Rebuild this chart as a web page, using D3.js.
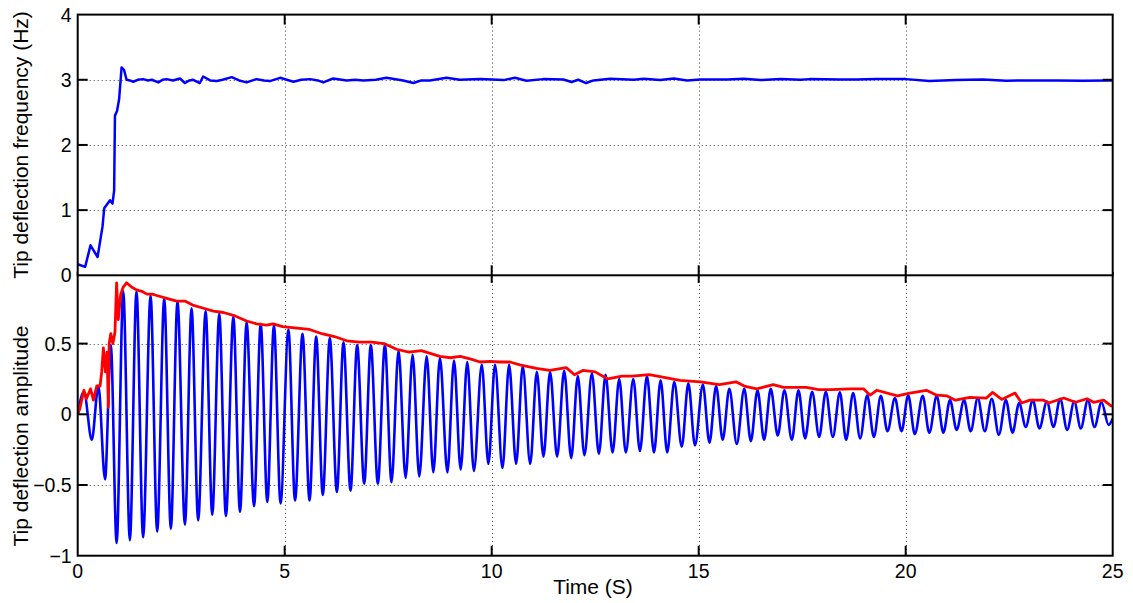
<!DOCTYPE html>
<html>
<head>
<meta charset="utf-8">
<script src="https://cdn.jsdelivr.net/npm/d3@7"></script>
<style>
  html, body { margin: 0; padding: 0; background: #fff; }
  svg { display: block; font-family: "Liberation Sans", Arial, sans-serif; }
</style>
</head>
<body>
<svg id="chart" width="1133" height="603"></svg>
<script>
// Top panel: tip deflection frequency (Hz) vs time (s)
const freqT = [0, 0.18, 0.31, 0.48, 0.6, 0.64, 0.78, 0.84, 0.88, 0.9, 0.95, 1.0, 1.06, 1.12, 1.18, 1.26, 1.34, 1.45, 1.58, 1.7, 1.79, 1.95, 2.05, 2.15, 2.3, 2.47, 2.59, 2.7, 2.79, 2.95, 3.03, 3.2, 3.36, 3.5, 3.72, 3.9, 4.08, 4.32, 4.5, 4.64, 4.89, 5.05, 5.21, 5.4, 5.61, 5.8, 5.93, 6.17, 6.5, 6.7, 6.9, 7.2, 7.46, 7.86, 8.11, 8.3, 8.51, 8.91, 9.23, 9.72, 10.29, 10.56, 10.84, 11.24, 11.73, 11.93, 12.09, 12.28, 12.46, 12.86, 13.43, 13.67, 14.07, 14.4, 14.72, 15.04, 15.69, 16.09, 16.49, 16.98, 17.46, 17.68, 18.4, 18.8, 19.29, 20.01, 20.57, 21.22, 21.86, 22.43, 22.99, 23.63, 24.27, 24.92, 25];
const freqHz = [0.17, 0.13, 0.46, 0.28, 0.75, 1.03, 1.15, 1.1, 1.3, 2.45, 2.52, 2.7, 3.19, 3.15, 3.0, 2.99, 2.97, 3.0, 3.01, 2.99, 3.0, 2.96, 3.0, 3.01, 2.99, 3.02, 2.95, 2.99, 3.0, 2.95, 3.05, 2.99, 2.98, 3.0, 3.04, 2.99, 2.96, 3.01, 2.99, 2.98, 3.03, 3.0, 2.97, 3.0, 3.01, 2.99, 2.96, 3.02, 2.99, 3.0, 2.99, 3.0, 3.03, 2.99, 2.95, 2.99, 2.99, 3.03, 3.0, 3.01, 2.995, 3.03, 2.985, 3.01, 3.005, 2.965, 3.0, 2.95, 2.99, 3.015, 3.0, 3.015, 2.995, 3.02, 2.99, 3.005, 3.005, 3.015, 2.995, 3.01, 3.0, 3.01, 3.005, 3.005, 3.01, 3.01, 2.98, 2.995, 3.005, 2.985, 2.99, 2.99, 2.985, 2.99, 2.99];

// Bottom panel: tip deflection, successive peaks and troughs (blue)
const defT = [0, 0.15, 0.34, 0.5, 0.66, 0.8, 0.94, 1.1, 1.26, 1.42, 1.58, 1.76, 1.92, 2.09, 2.25, 2.41, 2.59, 2.75, 2.91, 3.09, 3.25, 3.42, 3.58, 3.76, 3.92, 4.08, 4.26, 4.42, 4.58, 4.74, 4.9, 5.09, 5.25, 5.43, 5.6, 5.76, 5.92, 6.09, 6.26, 6.42, 6.59, 6.75, 6.92, 7.08, 7.25, 7.42, 7.58, 7.75, 7.92, 8.09, 8.25, 8.43, 8.59, 8.75, 8.93, 9.09, 9.25, 9.41, 9.57, 9.76, 9.92, 10.08, 10.26, 10.42, 10.59, 10.75, 10.93, 11.09, 11.25, 11.41, 11.58, 11.75, 11.92, 12.08, 12.24, 12.42, 12.59, 12.75, 12.92, 13.08, 13.24, 13.42, 13.58, 13.75, 13.92, 14.08, 14.24, 14.41, 14.59, 14.75, 14.91, 15.1, 15.26, 15.42, 15.58, 15.74, 15.92, 16.1, 16.26, 16.42, 16.58, 16.74, 16.91, 17.07, 17.25, 17.41, 17.57, 17.74, 17.91, 18.07, 18.24, 18.41, 18.56, 18.73, 18.9, 19.07, 19.23, 19.4, 19.56, 19.74, 19.9, 20.06, 20.22, 20.41, 20.57, 20.75, 20.91, 21.07, 21.23, 21.41, 21.57, 21.74, 21.91, 22.08, 22.25, 22.42, 22.58, 22.74, 22.9, 23.07, 23.23, 23.41, 23.57, 23.73, 23.9, 24.07, 24.23, 24.4, 24.56, 24.73, 24.9, 25];
const defAmp = [0, 0.16, -0.18, 0.2, -0.46, 0.49, -0.91, 0.87, -0.89, 0.87, -0.87, 0.84, -0.83, 0.82, -0.81, 0.8, -0.78, 0.75, -0.75, 0.73, -0.71, 0.71, -0.72, 0.69, -0.69, 0.65, -0.65, 0.64, -0.62, 0.63, -0.63, 0.6, -0.61, 0.57, -0.61, 0.55, -0.57, 0.54, -0.55, 0.51, -0.54, 0.49, -0.49, 0.49, -0.49, 0.49, -0.48, 0.45, -0.45, 0.42, -0.44, 0.41, -0.41, 0.4, -0.41, 0.38, -0.39, 0.37, -0.4, 0.35, -0.35, 0.35, -0.38, 0.35, -0.35, 0.34, -0.35, 0.3, -0.3, 0.3, -0.3, 0.31, -0.31, 0.27, -0.29, 0.29, -0.28, 0.28, -0.27, 0.25, -0.27, 0.25, -0.26, 0.27, -0.27, 0.24, -0.27, 0.23, -0.23, 0.22, -0.22, 0.21, -0.2, 0.2, -0.18, 0.18, -0.21, 0.18, -0.19, 0.17, -0.18, 0.18, -0.15, 0.17, -0.18, 0.17, -0.17, 0.16, -0.16, 0.16, -0.16, 0.155, -0.18, 0.15, -0.17, 0.135, -0.16, 0.13, -0.12, 0.115, -0.12, 0.135, -0.14, 0.13, -0.13, 0.13, -0.13, 0.1, -0.11, 0.1, -0.12, 0.115, -0.12, 0.11, -0.145, 0.1, -0.13, 0.08, -0.09, 0.1, -0.1, 0.09, -0.09, 0.11, -0.11, 0.09, -0.1, 0.1, -0.09, 0.085, -0.075, -0.03];

// Bottom panel: envelope (red)
const envT = [0, 0.05, 0.15, 0.21, 0.31, 0.38, 0.46, 0.54, 0.58, 0.62, 0.67, 0.71, 0.74, 0.76, 0.8, 0.85, 0.9, 0.94, 0.98, 1.04, 1.1, 1.18, 1.3, 1.42, 1.55, 1.67, 1.8, 1.91, 2.15, 2.39, 2.6, 2.8, 3.04, 3.28, 3.52, 3.76, 4.08, 4.32, 4.56, 4.72, 4.95, 5.3, 5.6, 5.9, 6.2, 6.5, 6.8, 7.1, 7.4, 7.7, 8.0, 8.3, 8.75, 9.0, 9.24, 9.5, 9.72, 9.96, 10.2, 10.44, 10.68, 11.08, 11.4, 11.8, 12.0, 12.2, 12.5, 12.8, 13.15, 13.4, 13.8, 14.1, 14.55, 15.04, 15.5, 15.9, 16.1, 16.4, 16.8, 17.05, 17.6, 17.9, 18.2, 18.66, 18.98, 19.14, 19.3, 19.8, 20.1, 20.5, 20.75, 21.0, 21.2, 21.55, 21.95, 22.1, 22.32, 22.64, 22.8, 23.0, 23.33, 23.45, 23.82, 24.1, 24.38, 24.54, 24.78, 24.96, 25];
const envAmp = [0, 0.04, 0.17, 0.11, 0.18, 0.1, 0.2, 0.2, 0.3, 0.47, 0.3, 0.44, 0.05, 0.5, 0.57, 0.5, 0.58, 0.93, 0.67, 0.85, 0.9, 0.93, 0.9, 0.88, 0.87, 0.85, 0.85, 0.84, 0.82, 0.8, 0.8, 0.77, 0.75, 0.73, 0.72, 0.7, 0.66, 0.64, 0.63, 0.64, 0.62, 0.61, 0.6, 0.57, 0.55, 0.52, 0.51, 0.51, 0.5, 0.46, 0.44, 0.45, 0.41, 0.4, 0.41, 0.39, 0.37, 0.375, 0.37, 0.37, 0.35, 0.325, 0.31, 0.33, 0.28, 0.31, 0.3, 0.25, 0.27, 0.27, 0.28, 0.265, 0.24, 0.23, 0.21, 0.23, 0.2, 0.18, 0.21, 0.19, 0.19, 0.175, 0.175, 0.18, 0.18, 0.135, 0.17, 0.13, 0.15, 0.17, 0.135, 0.13, 0.1, 0.12, 0.115, 0.155, 0.105, 0.15, 0.08, 0.1, 0.1, 0.08, 0.115, 0.085, 0.11, 0.085, 0.1, 0.06, 0.06];

const xTicks = [0, 5, 10, 15, 20, 25];
const freqTicks = [0, 1, 2, 3, 4];
const ampTicks = [-1, -0.5, 0, 0.5];

const svg = d3.select('#chart');
svg.append('rect').attr('width', 1133).attr('height', 603).attr('fill', '#fff');

const plotLeft = 77.7, plotRight = 1112.7;
const x = d3.scaleLinear().domain([0, 25]).range([plotLeft, plotRight]);
const yFreq = d3.scaleLinear().domain([0, 4]).range([275.3, 14.6]);
const yAmp = d3.scaleLinear().domain([-1, 1]).range([555.7, 272.9]);

const TICK = 10;

function drawPanel(g, y, gridY, clipId) {
  const [y0, y1] = y.range(); // bottom, top
  g.append('rect')
    .attr('x', plotLeft).attr('y', y1)
    .attr('width', plotRight - plotLeft).attr('height', y0 - y1)
    .attr('fill', '#fff');

  g.append('clipPath').attr('id', clipId)
    .append('rect')
    .attr('x', plotLeft).attr('y', y1)
    .attr('width', plotRight - plotLeft).attr('height', y0 - y1);

  // dotted grid
  const grid = g.append('g')
    .attr('stroke', '#000')
    .attr('stroke-width', 1)
    .attr('stroke-dasharray', '1,3')
    .attr('opacity', 0.75);
  grid.selectAll('.gx').data(xTicks.slice(1, -1)).join('line')
    .attr('x1', d => Math.round(x(d)) + 0.5).attr('x2', d => Math.round(x(d)) + 0.5)
    .attr('y1', y1).attr('y2', y0);
  grid.selectAll('.gy').data(gridY).join('line')
    .attr('x1', plotLeft).attr('x2', plotRight)
    .attr('y1', d => Math.round(y(d)) + 0.5).attr('y2', d => Math.round(y(d)) + 0.5);

  const plot = g.append('g').attr('clip-path', `url(#${clipId})`);
  return { plot, y0, y1 };
}

function drawFrame(g, y, yTickVals, y0, y1) {
  const frame = g.append('g').attr('stroke', '#000').attr('stroke-width', 2).attr('fill', 'none');
  frame.append('rect')
    .attr('x', plotLeft).attr('y', y1)
    .attr('width', plotRight - plotLeft).attr('height', y0 - y1);
  xTicks.slice(1, -1).forEach(t => {
    frame.append('line').attr('x1', x(t)).attr('x2', x(t)).attr('y1', y0).attr('y2', y0 - TICK);
    frame.append('line').attr('x1', x(t)).attr('x2', x(t)).attr('y1', y1).attr('y2', y1 + TICK);
  });
  yTickVals.forEach(v => {
    if (Math.abs(y(v) - y0) < 1 || Math.abs(y(v) - y1) < 1) return;
    frame.append('line').attr('x1', plotLeft).attr('x2', plotLeft + TICK).attr('y1', y(v)).attr('y2', y(v));
    frame.append('line').attr('x1', plotRight).attr('x2', plotRight - TICK).attr('y1', y(v)).attr('y2', y(v));
  });

  g.append('g').selectAll('text').data(yTickVals).join('text')
    .attr('x', plotLeft - 6)
    .attr('y', d => y(d))
    .attr('dy', '0.36em')
    .attr('text-anchor', 'end')
    .attr('font-size', '19.5px')
    .attr('fill', '#000')
    .text(d => d3.format('')(d));
}

// bottom panel first, so the top panel covers its upper border
const gAmp = svg.append('g');
const ampPanel = drawPanel(gAmp, yAmp, [-0.5, 0, 0.5], 'clip-amp');

const blueLine = d3.line()
  .x((d, i) => x(defT[i]))
  .y(d => yAmp(d))
  .curve(d3.curveMonotoneX);
ampPanel.plot.append('path')
  .attr('d', blueLine(defAmp))
  .attr('fill', 'none')
  .attr('stroke', '#0000ff')
  .attr('stroke-width', 2.6)
  .attr('stroke-linejoin', 'round');

const redLine = d3.line()
  .x((d, i) => x(envT[i]))
  .y(d => yAmp(d));
ampPanel.plot.append('path')
  .attr('d', redLine(envAmp))
  .attr('fill', 'none')
  .attr('stroke', '#ff0000')
  .attr('stroke-width', 2.8)
  .attr('stroke-linejoin', 'round');

drawFrame(gAmp, yAmp, ampTicks, ampPanel.y0, ampPanel.y1);

// top panel
const gFreq = svg.append('g');
const freqPanel = drawPanel(gFreq, yFreq, [1, 2, 3], 'clip-freq');

const freqLine = d3.line()
  .x((d, i) => x(freqT[i]))
  .y(d => yFreq(d));
freqPanel.plot.append('path')
  .attr('d', freqLine(freqHz))
  .attr('fill', 'none')
  .attr('stroke', '#0000ff')
  .attr('stroke-width', 2.5)
  .attr('stroke-linejoin', 'round');

drawFrame(gFreq, yFreq, freqTicks, freqPanel.y0, freqPanel.y1);

// x tick labels
svg.append('g').selectAll('text').data(xTicks).join('text')
  .attr('x', d => x(d))
  .attr('y', 578)
  .attr('text-anchor', 'middle')
  .attr('font-size', '19.5px')
  .attr('fill', '#000')
  .text(d => d);

// axis titles
svg.append('text')
  .attr('x', 593).attr('y', 594)
  .attr('text-anchor', 'middle')
  .attr('font-size', '21px')
  .text('Time (S)');

svg.append('text')
  .attr('transform', 'translate(28,145) rotate(-90)')
  .attr('text-anchor', 'middle')
  .attr('font-size', '21px')
  .text('Tip deflection frequency (Hz)');

svg.append('text')
  .attr('transform', 'translate(28,436) rotate(-90)')
  .attr('text-anchor', 'middle')
  .attr('font-size', '21px')
  .text('Tip deflection amplitude');
</script>
</body>
</html>
